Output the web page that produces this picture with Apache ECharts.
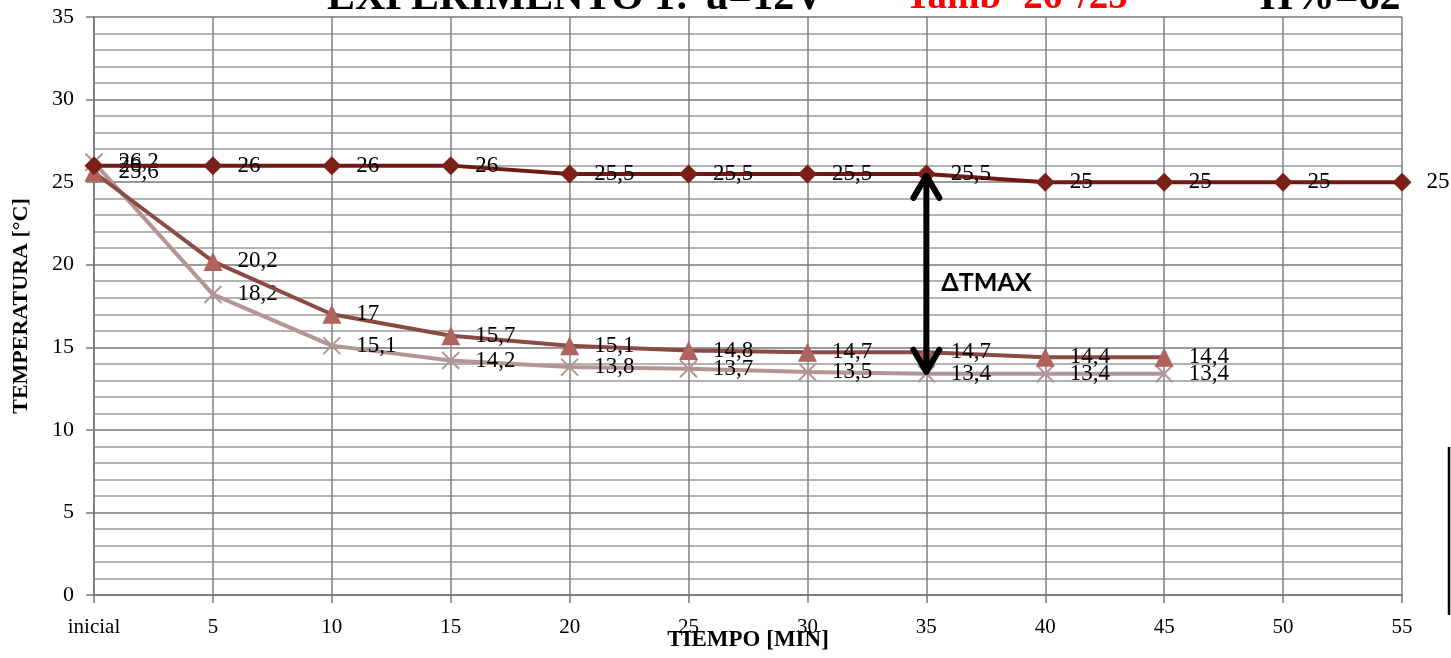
<!DOCTYPE html>
<html><head><meta charset="utf-8">
<script src="https://cdn.jsdelivr.net/npm/echarts@6/dist/echarts.min.js"></script>
<style>html,body{margin:0;padding:0;background:#fff}#c{width:1451px;height:658px}</style>
</head><body><div id="c"></div>
<script>
var categories = ['inicial','5','10','15','20','25','30','35','40','45','50','55'];
var serieAmbiente = [26, 26, 26, 26, 25.5, 25.5, 25.5, 25.5, 25, 25, 25, 25];
var serieTriangulo = [25.6, 20.2, 17, 15.7, 15.1, 14.8, 14.7, 14.7, 14.4, 14.4];
var serieCruz = [26.2, 18.2, 15.1, 14.2, 13.8, 13.7, 13.5, 13.4, 13.4, 13.4];
var yTicks = [0, 5, 10, 15, 20, 25, 30, 35];

var serif = 'Liberation Serif';
function lbl(p){ return String(p.value).replace('.', ','); }
var labelStyle = {show:true, position:'right', distance:15, formatter:lbl, color:'#000', fontFamily:serif, fontSize:23};

var chart = echarts.init(document.getElementById('c'));
chart.setOption({
  animation:false,
  grid:{left:94, right:49, top:17, bottom:63, containLabel:false, outerBoundsMode:'none'},
  xAxis:{type:'category', data:categories, boundaryGap:false,
    axisLine:{lineStyle:{color:'#777', width:1.5}},
    axisTick:{show:true, length:8, alignWithLabel:true, lineStyle:{color:'#777', width:1.5}},
    axisLabel:{color:'#000', fontFamily:serif, fontSize:21, margin:22},
    splitLine:{show:true, lineStyle:{color:'#808080', width:1.5}},
    name:'TIEMPO [MIN]', nameLocation:'middle', nameGap:34, nameMoveOverlap:false,
    nameTextStyle:{color:'#000', fontFamily:serif, fontWeight:'bold', fontSize:23}
  },
  yAxis:{type:'value', min:yTicks[0], max:yTicks[yTicks.length-1], interval:5,
    axisLine:{show:true, lineStyle:{color:'#777', width:1.5}},
    axisTick:{show:true, length:8, lineStyle:{color:'#777', width:1.5}},
    minorTick:{show:false, splitNumber:5},
    minorSplitLine:{show:true, lineStyle:{color:'#9a9a9a', width:1.5}},
    axisLabel:{color:'#000', fontFamily:serif, fontSize:22, margin:20},
    splitLine:{show:true, lineStyle:{color:'#777', width:1.5}},
    name:'TEMPERATURA [°C]', nameLocation:'middle', nameGap:62, nameRotate:90, nameMoveOverlap:false,
    nameTextStyle:{color:'#000', fontFamily:serif, fontWeight:'bold', fontSize:22}
  },
  series:[
    {type:'line', data:serieAmbiente, symbol:'diamond', symbolSize:19, z:4,
      lineStyle:{color:'#6e1a12', width:4}, itemStyle:{color:'#7b2016'}, label:labelStyle},
    {type:'line', data:serieTriangulo, symbol:'triangle', symbolSize:19, z:3,
      lineStyle:{color:'#8c4a45', width:4}, itemStyle:{color:'#b0635e'}, label:labelStyle},
    {type:'line', data:serieCruz, symbol:'path://M0,0 L10,10 M10,0 L0,10', symbolSize:17, z:2,
      lineStyle:{color:'#b39594', width:4}, itemStyle:{color:'#fff', borderColor:'#b39594', borderWidth:2}, label:labelStyle}
  ]
});

var pTop = chart.convertToPixel({seriesIndex:0}, [7, 25.5]);
var pBot = chart.convertToPixel({seriesIndex:0}, [7, 13.4]);
var ax = pTop[0], y1 = pTop[1] + 2, y2 = pBot[1] - 2;
var ls = {stroke:'#000', lineWidth:6, lineCap:'round', lineJoin:'round'};
chart.setOption({graphic:[
  {type:'line', shape:{x1:ax, y1:y1, x2:ax, y2:y2}, style:ls, z:100},
  {type:'polyline', shape:{points:[[ax-13,y1+22],[ax,y1],[ax+13,y1+22]]}, style:Object.assign({fill:null}, ls), z:100},
  {type:'polyline', shape:{points:[[ax-13,y2-22],[ax,y2],[ax+13,y2-22]]}, style:Object.assign({fill:null}, ls), z:100},
  {type:'text', x:ax+15, y:283, style:{text:'ΔTMAX', fill:'#000', font:'bold 25px Lato', verticalAlign:'middle'}, z:100},
  {type:'text', x:327, y:-2, style:{text:'EXPERIMENTO 1:', fill:'#000', font:'bold 42px "Liberation Serif"', verticalAlign:'middle'}, z:100},
  {type:'text', x:705, y:-2, style:{text:'u=12V', fill:'#000', font:'bold 42px "Liberation Serif"', verticalAlign:'middle'}, z:100},
  {type:'text', x:905, y:-2, style:{text:'Tamb=26°/25', fill:'#ff0000', font:'bold 39px "Liberation Serif"', verticalAlign:'middle'}, z:100},
  {type:'text', x:1260, y:-2, style:{text:'H%=62', fill:'#000', font:'bold 42px "Liberation Serif"', verticalAlign:'middle'}, z:100},
  {type:'line', shape:{x1:1449, y1:447, x2:1449, y2:615}, style:{stroke:'#000', lineWidth:2.5}, z:100}
]});
</script></body></html>
